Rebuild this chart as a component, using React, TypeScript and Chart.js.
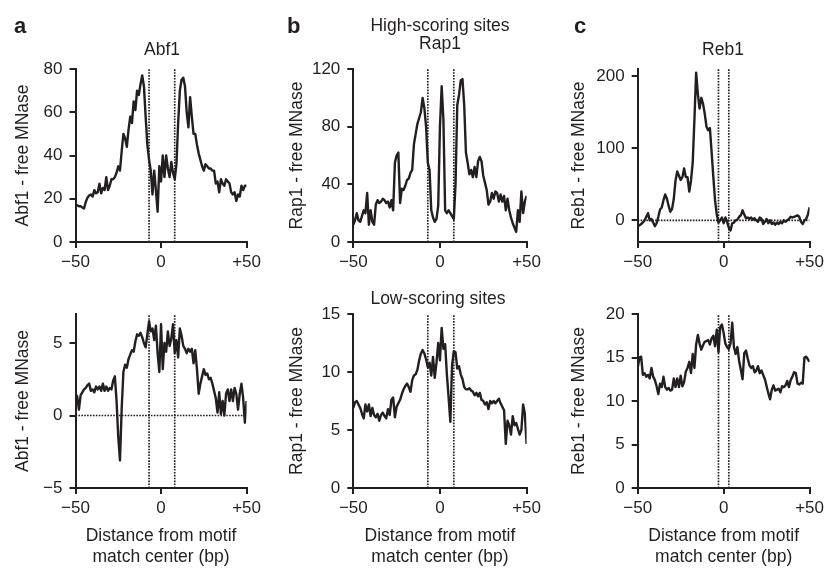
import React, { useEffect, useRef } from 'react';
import { Chart, registerables } from 'chart.js';

Chart.register(...registerables);

// ---------- data ----------
// distance from motif match center (bp), one value per bp from -50 to +50
const POSITIONS = Array.from({ length: 101 }, (_, i) => i - 50);

const ABF1_HIGH = [
  17, 17, 16.5, 16.5, 16, 15.5, 18.5, 20.5, 21.5, 22,
  21, 24, 22.5, 23, 27, 22.5, 25, 24, 30, 24,
  26, 29, 29, 30, 32, 35, 33, 42, 50, 48,
  44, 52, 58, 55, 65, 61, 70, 68, 73, 77,
  72, 58, 45, 38, 33, 22, 33, 24, 14, 35,
  28, 40, 30, 40, 34, 30, 37, 32, 29, 36,
  55, 70, 75, 76, 72, 60, 53, 67, 58, 50,
  50, 45, 41, 38, 35, 33, 36, 35, 34, 34,
  33, 33, 27, 28, 23, 29, 27, 26, 29, 28,
  27, 23, 22, 23, 19, 22, 21, 26, 24, 26,
  26,
];

const RAP1_HIGH = [
  12, 15, 20, 15, 14, 18, 22, 20, 34, 12,
  22, 14, 12, 26, 29, 27, 28, 30, 29, 27,
  28, 24, 29, 22, 55, 60, 62, 27, 37, 36,
  39, 43, 44, 48, 50, 68, 75, 82, 86, 90,
  100, 93, 80, 55, 50, 22, 17, 14, 16, 25,
  80, 108, 85, 22, 20, 22, 20, 18, 16, 40,
  95, 102, 112, 113, 95, 62, 55, 47, 50, 45,
  52, 45, 56, 59, 56, 46, 41, 36, 26, 28,
  34, 30, 35, 34, 28, 33, 28, 32, 22, 30,
  22, 17, 13, 10, 7, 22, 14, 35, 20, 28,
  32,
];

const REB1_HIGH = [
  -6, -7, -5, -3, 0, 5, 10, 0, 2, -3,
  -8, -4, 5, 15, 18, 28, 36, 30, 20, 12,
  16, 30, 55, 68, 62, 56, 60, 72, 60, 60,
  40, 55, 80, 140, 205, 175, 155, 170, 162, 148,
  130, 125, 128, 95, 60, 28, 8, -3, 0, 4,
  -4, 4, -2, -10, -14, -4, -3, 0, 1, 5,
  7, 14, 8, 3, 4, 2, 4, 1, 3, 0,
  -2, 4, 2, -5, -2, 2, -4, 0, -5, -3,
  -6, -3, -5, -2, -4, 0, -2, 0, 2, 5,
  4, 5, 6, 7, 5, -2, -5, 0, 2, 8,
  18,
];

const ABF1_LOW = [
  1.5, 1.3, 0.4, 1.4, 1.6, 1.8, 1.9, 2.1, 2.2, 1.7,
  1.8, 1.6, 2.0, 1.8, 2.0, 1.7, 2.2, 1.7, 2.0, 1.7,
  1.9, 1.8, 2.4, 2.7, 1.0, -1.5, -3.1, 0.5, 3.0, 3.5,
  3.3, 3.9, 4.2, 4.5, 4.4, 5.1, 5.6, 5.5, 5.7, 5.4,
  5.0, 4.7, 5.6, 6.5, 5.8, 6.0, 5.2, 6.2, 4.3, 3.0,
  6.3, 3.2, 5.0, 4.4, 5.8, 4.8, 5.3, 6.3, 4.3, 5.2,
  4.0, 6.0, 5.5, 4.8, 4.6, 4.3, 4.6, 4.4, 4.6, 3.6,
  4.5, 3.2, 1.5, 2.2, 2.7, 3.2, 2.8, 2.9, 2.5, 2.6,
  2.2, 1.7, 1.2, 0.2, 1.6, 0.1, 1.0, 0.0, 1.5, 1.8,
  1.0, 1.8, 1.0, 1.9, 1.5, 0.4, 1.5, 2.2, 1.2, -0.5,
  1.0,
];

const RAP1_LOW = [
  6.9, 7.4, 7.5, 7.2, 6.9, 6.4, 6.0, 7.2, 6.6, 7.2,
  6.2, 6.9, 6.3, 6.1, 6.4, 5.8, 6.3, 6.5, 6.2, 6.0,
  6.8, 6.3, 7.6, 7.8, 6.1, 7.0, 7.3, 7.6, 8.1, 8.5,
  8.8, 9.0, 8.7, 8.3, 9.3, 9.7, 9.8, 10.2, 11.0, 11.6,
  11.9, 11.6, 11.1, 10.4, 10.8, 9.7, 11.3, 9.5, 10.8, 12.5,
  11.0, 13.8, 12.0, 12.4, 9.8, 7.8, 5.7, 10.6, 11.8, 11.7,
  10.3, 10.5, 9.8, 9.4, 8.7, 8.5, 8.5, 8.6, 8.4, 8.3,
  8.0, 8.2, 7.9, 8.2, 7.6, 7.5, 7.2, 7.4, 6.8, 7.5,
  7.3, 7.5, 7.3, 7.5, 7.7, 7.3, 7.0, 6.7, 3.8, 5.8,
  5.4, 4.6, 6.2, 5.4, 5.6, 5.1, 4.6, 5.0, 7.2, 6.4,
  3.8,
];

const REB1_LOW = [
  13.8, 15.0, 15.1, 13.0, 13.2, 12.8, 13.0, 12.6, 13.8, 12.8,
  12.4, 11.7, 10.8, 12.0, 11.6, 12.8, 11.6, 11.3, 11.5, 11.2,
  11.3, 12.6, 11.6, 12.6, 11.6, 12.9, 11.7, 12.2, 13.4, 13.8,
  14.5, 13.2, 15.4, 13.8, 16.5, 17.6, 16.6, 15.9, 16.4, 16.8,
  16.9, 17.0, 16.5, 17.2, 17.5, 16.3, 18.2, 15.6, 18.5, 18.8,
  17.8, 16.6, 16.2, 16.0, 16.6, 19.0, 16.2, 15.4, 16.2, 14.6,
  13.6, 12.5, 15.5, 15.8, 14.9, 14.1, 13.8, 14.0, 13.3, 13.5,
  14.0, 13.2, 13.5, 13.0, 12.5, 11.7, 10.9, 10.2, 11.3, 11.8,
  11.2, 11.3, 11.4, 11.0, 11.7, 11.6, 11.8, 12.3, 11.6, 12.4,
  12.8, 13.3, 13.2, 12.0, 11.9, 12.1, 12.0, 15.0, 15.1, 14.8,
  14.5,
];

// motif boundaries (dotted vertical lines)
const ABF1_MOTIF = [-7, 8];
const RAP1_MOTIF = [-7, 8];
const REB1_MOTIF = [-3, 3];

// tick values and labels
const X_TICKS = [-50, 0, 50];
const X_TICK_LABELS = ['\u221250', '0', '+50'];
const X_TITLE = ['Distance from motif', 'match center (bp)'];

const ABF1_HIGH_TICKS = [0, 20, 40, 60, 80];
const RAP1_HIGH_TICKS = [0, 40, 80, 120];
const REB1_HIGH_TICKS = [0, 100, 200];
const ABF1_LOW_TICKS = [-5, 0, 5];
const ABF1_LOW_LABELS = ['\u22125', '0', '5'];
const RAP1_LOW_TICKS = [0, 5, 10, 15];
const REB1_LOW_TICKS = [0, 5, 10, 15, 20];

// ---------- styling / layout ----------
const FONT = '"Liberation Sans", Arial, Helvetica, sans-serif';
const INK = '#231f20';
const TICK_SIZE = 17;
const TITLE_SIZE = 17.5;

type TextItem = { t: string; x: number; y: number; bold?: boolean; size?: number; align?: CanvasTextAlign; base?: CanvasTextBaseline };

type PanelCfg = {
  left: number; top: number; w: number; h: number;
  area: [number, number, number, number];
  values: number[];
  yMin: number; yMax: number;
  yTicks: number[]; yLabels?: string[];
  yTitle: string; yTitleX: number;
  motif: number[];
  zeroLine: boolean;
  xTitle: boolean;
  texts: TextItem[];
};

const PANELS: PanelCfg[] = [
  {
    left: 0, top: 0, w: 265, h: 284, area: [75.5, 69, 248, 242],
    values: ABF1_HIGH, yMin: 0, yMax: 80, yTicks: ABF1_HIGH_TICKS,
    yTitle: 'Abf1 - free MNase', yTitleX: 23, motif: ABF1_MOTIF, zeroLine: false, xTitle: false,
    texts: [
      { t: 'a', x: 14, y: 32.5, bold: true, size: 22, align: 'left', base: 'alphabetic' },
      { t: 'Abf1', x: 162, y: 50.5 },
    ],
  },
  {
    left: 265, top: 0, w: 280, h: 284, area: [353.3, 69, 526.7, 242],
    values: RAP1_HIGH, yMin: 0, yMax: 120, yTicks: RAP1_HIGH_TICKS,
    yTitle: 'Rap1 - free MNase', yTitleX: 297, motif: RAP1_MOTIF, zeroLine: false, xTitle: false,
    texts: [
      { t: 'b', x: 287, y: 32.5, bold: true, size: 22, align: 'left', base: 'alphabetic' },
      { t: 'High-scoring sites', x: 440, y: 26.5 },
      { t: 'Rap1', x: 440, y: 44.5 },
    ],
  },
  {
    left: 545, top: 0, w: 283, h: 284, area: [637.7, 69, 810, 242],
    values: REB1_HIGH, yMin: -30, yMax: 210, yTicks: REB1_HIGH_TICKS,
    yTitle: 'Reb1 - free MNase', yTitleX: 579, motif: REB1_MOTIF, zeroLine: true, xTitle: false,
    texts: [
      { t: 'c', x: 574, y: 32.5, bold: true, size: 22, align: 'left', base: 'alphabetic' },
      { t: 'Reb1', x: 723, y: 50.5 },
    ],
  },
  {
    left: 0, top: 284, w: 265, h: 284, area: [75.5, 314, 248, 488],
    values: ABF1_LOW, yMin: -5, yMax: 7, yTicks: ABF1_LOW_TICKS, yLabels: ABF1_LOW_LABELS,
    yTitle: 'Abf1 - free MNase', yTitleX: 23.5, motif: ABF1_MOTIF, zeroLine: true, xTitle: true,
    texts: [],
  },
  {
    left: 265, top: 284, w: 280, h: 284, area: [353.3, 314, 526.7, 488],
    values: RAP1_LOW, yMin: 0, yMax: 15, yTicks: RAP1_LOW_TICKS,
    yTitle: 'Rap1 - free MNase', yTitleX: 297, motif: RAP1_MOTIF, zeroLine: false, xTitle: true,
    texts: [{ t: 'Low-scoring sites', x: 438, y: 299.5 }],
  },
  {
    left: 545, top: 284, w: 283, h: 284, area: [637.7, 314, 810, 488],
    values: REB1_LOW, yMin: 0, yMax: 20, yTicks: REB1_LOW_TICKS,
    yTitle: 'Reb1 - free MNase', yTitleX: 579, motif: REB1_MOTIF, zeroLine: false, xTitle: true,
    texts: [],
  },
];

function Panel({ cfg }: { cfg: PanelCfg }) {
  const ref = useRef<HTMLCanvasElement | null>(null);

  useEffect(() => {
    const [x0, y0, x1, y1] = cfg.area;
    const titleLH = Math.round(TITLE_SIZE * 1.2);

    const datasets: any[] = [
      {
        data: POSITIONS.map((x, i) => ({ x, y: cfg.values[i] })),
        borderColor: INK,
        borderWidth: 2.4,
        borderJoinStyle: 'round',
        pointRadius: 0,
        fill: false,
        tension: 0,
        order: 0,
      },
    ];
    cfg.motif.forEach((m) => {
      datasets.push({
        data: [{ x: m, y: cfg.yMin }, { x: m, y: cfg.yMax }],
        borderColor: INK,
        borderWidth: 1.7,
        borderDash: [1.6, 1.3],
        pointRadius: 0,
        fill: false,
        order: 1,
      });
    });
    if (cfg.zeroLine) {
      datasets.push({
        data: [{ x: -50, y: 0 }, { x: 50, y: 0 }],
        borderColor: INK,
        borderWidth: 1.7,
        borderDash: [1.6, 1.3],
        pointRadius: 0,
        fill: false,
        order: 1,
      });
    }

    const textPlugin = {
      id: 'panelText',
      afterDraw(chart: any) {
        const ctx = chart.ctx;
        ctx.save();
        ctx.fillStyle = INK;
        cfg.texts.forEach((it) => {
          ctx.font = `${it.bold ? 'bold ' : ''}${it.size ?? TITLE_SIZE}px ${FONT}`;
          ctx.textAlign = it.align ?? 'center';
          ctx.textBaseline = it.base ?? 'middle';
          ctx.fillText(it.t, it.x - cfg.left, it.y - cfg.top);
        });
        ctx.restore();
      },
    };

    const gridOpts = {
      display: true,
      drawOnChartArea: false,
      drawTicks: true,
      tickLength: 6,
      lineWidth: 2,
      color: INK,
    };
    const borderOpts = { display: true, width: 2, color: INK };

    const chart = new Chart(ref.current as HTMLCanvasElement, {
      type: 'line',
      data: { datasets },
      plugins: [textPlugin],
      options: {
        animation: false,
        responsive: false,
        devicePixelRatio: 1,
        layout: {
          padding: {
            left: 0,
            top: y0 - cfg.top,
            right: cfg.left + cfg.w - x1,
            bottom: 0,
          },
        },
        plugins: {
          legend: { display: false },
          tooltip: { enabled: false },
          title: { display: false },
        },
        scales: {
          x: {
            type: 'linear',
            min: -50,
            max: 50,
            afterFit: (s: any) => { s.height = cfg.top + cfg.h - y1; },
            afterBuildTicks: (s: any) => { s.ticks = X_TICKS.map((v) => ({ value: v })); },
            ticks: {
              callback: (_v: any, i: number) => X_TICK_LABELS[i],
              font: { family: FONT, size: TICK_SIZE, lineHeight: 1.2 },
              color: INK,
              padding: 4,
              maxRotation: 0,
              autoSkip: false,
            },
            grid: gridOpts,
            border: borderOpts,
            title: {
              display: cfg.xTitle,
              text: X_TITLE,
              color: INK,
              font: { family: FONT, size: TITLE_SIZE, lineHeight: 1.22 },
              padding: { top: 0, bottom: 0 },
            },
          },
          y: {
            type: 'linear',
            min: cfg.yMin,
            max: cfg.yMax,
            afterFit: (s: any) => { s.width = x0 - cfg.left; },
            afterBuildTicks: (s: any) => { s.ticks = cfg.yTicks.map((v) => ({ value: v })); },
            ticks: {
              callback: (v: any, i: number) => (cfg.yLabels ? cfg.yLabels[i] : String(cfg.yTicks[i])),
              font: { family: FONT, size: TICK_SIZE, lineHeight: 1.2 },
              color: INK,
              padding: 7,
              autoSkip: false,
            },
            grid: gridOpts,
            border: borderOpts,
            title: {
              display: true,
              text: cfg.yTitle,
              color: INK,
              font: { family: FONT, size: TITLE_SIZE, lineHeight: 1.2 },
              padding: { top: cfg.yTitleX - cfg.left - titleLH / 2, bottom: 0 },
            },
          },
        },
      } as any,
    });
    return () => chart.destroy();
  }, [cfg]);

  return (
    <canvas
      ref={ref}
      width={cfg.w}
      height={cfg.h}
      style={{ position: 'absolute', left: cfg.left, top: cfg.top, width: cfg.w, height: cfg.h }}
    />
  );
}

export default function App() {
  return (
    <div style={{ position: 'absolute', left: 0, top: 0, width: 828, height: 568, background: '#ffffff' }}>
      {PANELS.map((p, i) => (
        <Panel key={i} cfg={p} />
      ))}
    </div>
  );
}
